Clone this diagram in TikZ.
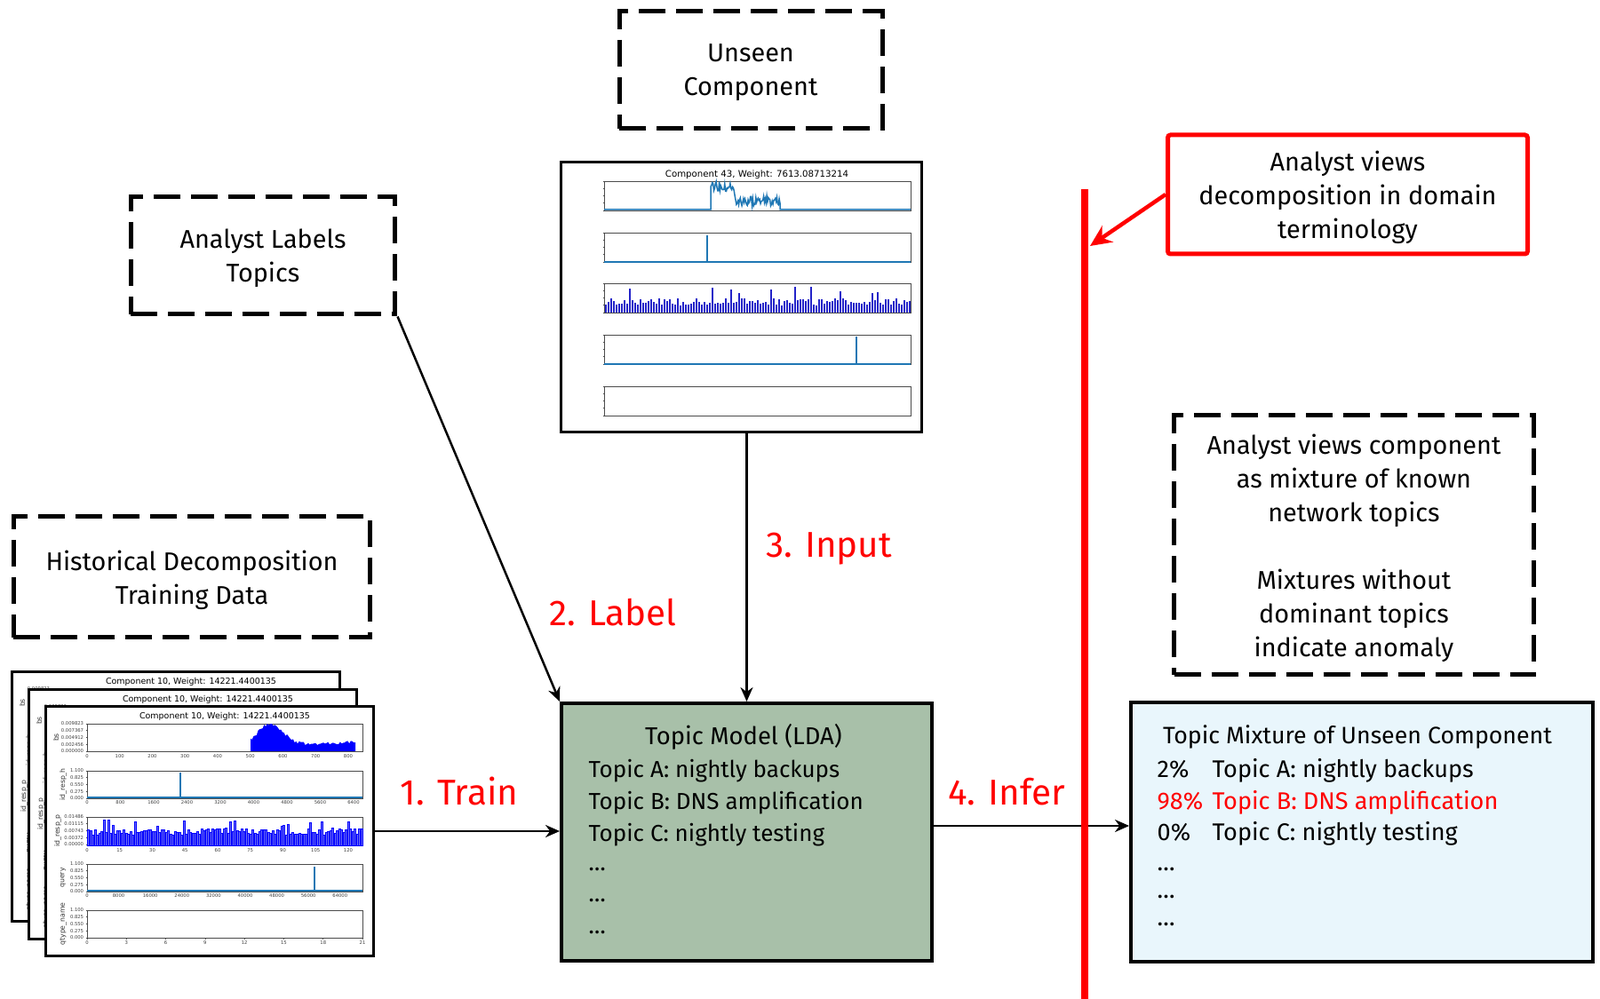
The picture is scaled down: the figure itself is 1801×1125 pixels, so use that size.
\documentclass[tikz,border=0pt]{standalone}
\usepackage{fontspec}
\setmainfont{Fira Sans}
\newfontfamily\plotfont{DejaVu Sans}
\usetikzlibrary{arrows.meta,positioning}
\definecolor{ldagreen}{RGB}{168,192,169}
\definecolor{mixblue}{RGB}{233,246,252}
\definecolor{mplblue}{RGB}{31,119,180}
\definecolor{barblue}{RGB}{110,110,245}
\definecolor{darkbar}{RGB}{35,35,200}

\tikzset{
  dashbox/.style={draw, line width=0.5mm, dash pattern=on 3mm off 1.2mm, align=center,
    font=\fontsize{8.2}{10.8}\selectfont, inner sep=0, text depth=0pt},
  boxtext/.style={font=\fontsize{8.2}{10.8}\selectfont, inner sep=0},
  stepname/.style={text=red, font=\fontsize{11.5}{13}\selectfont, inner sep=0},
  flow/.style={line width=0.25mm, -{Stealth[length=1.6mm,width=1.4mm]}},
  redflow/.style={draw=red, line width=0.45mm, -{Stealth[length=2.4mm,width=2.2mm]}},
  redbar/.style={draw=red, line width=0.75mm},
  plotframe/.style={draw, line width=0.3mm, fill=white, inner sep=0},
  plottitle/.style={font=\plotfont\fontsize{2.7}{3}\selectfont, inner sep=0},
  ticklab/.style={font=\plotfont\fontsize{1.5}{1.8}\selectfont, inner sep=0.2pt, text=black!75},
  ylab/.style={rotate=90, font=\plotfont\fontsize{2.2}{2.5}\selectfont, inner sep=0, text=black!80},
  axisline/.style={draw=black!70, line width=0.08mm},
  % one page of the training decomposition
  histchart/.pic={
    \node[plotframe, minimum width=37mm, minimum height=28.2mm] (frame) at (185,141) {};
    \node[plottitle] (title) at (202,12) {Component 10, Weight: 14221.4400135};
    \foreach \t/\lab/\lx in {20/bs/12,73/id\_resp\_h/20,125/id\_resp\_p/14,178/query/20,230/qtype\_name/20}{
      \draw[axisline] (47,\t) rectangle (357,\t+31);
      \node[ylab] (lab\t) at (\lx,\t+15.5) {\lab};
    }
    \foreach \t/\va/\vb/\vc/\vd/\ve in {20/0.000000/0.002456/0.004912/0.007367/0.009823,
        73/0.000/0.275/0.550/0.825/1.100,125/0.00000/0.00372/0.00743/0.01115/0.01486,
        178/0.000/0.275/0.550/0.825/1.100,230/0.000/0.275/0.550/0.825/1.100}
      \foreach \v [count=\k from 0] in {\va,\vb,\vc,\vd,\ve}{
        \draw[axisline] (47,\t+31-\k*7.75) -- ++(-1.5,0);
        \node[ticklab, anchor=east] (y\t\k) at (44.5,\t+31-\k*7.75) {\v};
      }
    \foreach \b/\dx/\vals in {51/36.75/{0,100,200,300,400,500,600,700,800},
        103/37.5/{0,800,1600,2400,3200,4000,4800,5600,6400},
        157/36.75/{0,15,30,45,60,75,90,105,120},
        208/35.6/{0,8000,16000,24000,32000,40000,48000,56000,64000},
        261/44.3/{0,3,6,9,12,15,18,21}}
      \foreach \v [count=\k from 0] in \vals{
        \draw[axisline] (47+\k*\dx,\b) -- ++(0,1.5);
        \node[ticklab, anchor=north] (x\b\k) at (47+\k*\dx,\b+2.5) {\v};
      }
    \fill[blue] (231,51) -- plot[domain=231:349,samples=70]
      (\x,{51-31*min(1,0.8*exp(-1*((\x-253)/20)^2)+0.12+0.15*(\x-231)/118+0.12*rnd)}) -- (349,51) -- cycle;
    \draw[mplblue, line width=0.15mm] (47,103) -- (357,103) (152,103) -- (152,75);
    \foreach \i in {0,...,123}{
      \pgfmathsetmacro\bh{31*(0.38+0.25*rnd+0.3*(rnd>0.9))}
      \filldraw[fill=barblue, draw=blue, line width=0.05mm] (47.5+\i*2.5,157) rectangle ++(1.9,-\bh);
    }
    \draw[mplblue, line width=0.15mm] (47,208) -- (357,208) (303,208) -- (303,181);
  },
  % the component that was not seen in training
  unseenchart/.pic={
    \node[plotframe, minimum width=40.6mm, minimum height=30.4mm] (frame) at (203,152) {};
    \node[plottitle, font=\plotfont\fontsize{2.9}{3.2}\selectfont] (title) at (221,14) {Component 43, Weight: 7613.08713214};
    \foreach \t in {21,79,136,194,252}{
      \draw[axisline] (49,\t) rectangle (394,\t+33);
      \foreach \k in {0,...,4}
        \draw[axisline] (49,\t+33-\k*8.25) -- ++(-1.5,0);
      \foreach \k in {0,...,10}
        \draw[axisline] (49+\k*34.5,\t+33) -- ++(0,1.5);
    }
    \draw[mplblue, line width=0.15mm] (49,53) -- (169,53) -- plot[domain=169:247,samples=90]
      (\x,{53-33*(0.12+0.5*(\x<196)+0.35*rnd)}) -- (247,53) -- (394,53);
    \draw[mplblue, line width=0.15mm] (49,112) -- (394,112) (165,112) -- (165,82);
    \foreach \i in {0,...,114}{
      \pgfmathsetmacro\bh{33*(0.25+0.25*rnd+0.4*(rnd>0.9))}
      \fill[darkbar] (50+\i*3,169) rectangle ++(2,-\bh);
    }
    \draw[mplblue, line width=0.15mm] (49,227) -- (394,227) (333,227) -- (333,196);
  }
}

\begin{document}
\begin{tikzpicture}[x=0.1mm,y=-0.1mm]
\useasboundingbox (0,0) rectangle (1801,1125);

% text boxes
\node[dashbox, minimum width=29.6mm, minimum height=13.2mm] (unseen) at (845,79) {Unseen\\Component};
\node[dashbox, minimum width=29.8mm, minimum height=13.2mm] (labels) at (296,288) {Analyst Labels\\Topics};
\node[dashbox, minimum width=40.2mm, minimum height=13.6mm] (hist) at (216,650) {Historical Decomposition\\Training Data};
\node[dashbox, minimum width=40.5mm, minimum height=29.2mm] (views) at (1524,614)
  {Analyst views component\\as mixture of known\\network topics\\[10.8pt]Mixtures without\\dominant topics\\indicate anomaly};
\node[draw=red, line width=0.5mm, rounded corners=0.3mm, minimum width=40.5mm, minimum height=13.4mm,
  align=center, boxtext, text depth=0pt] (domain) at (1517,219) {Analyst views\\decomposition in domain\\terminology};

% plots
\pic (back) at (13,756) {histchart};
\pic (middle) at (32,776) {histchart};
\pic (front) at (51,795) {histchart};
\pic (comp) at (631,183) {unseenchart};

% topic model
\node[draw, line width=0.4mm, fill=ldagreen, minimum width=41.7mm, minimum height=29mm] (lda) at (840.5,937) {};
\node[boxtext, font=\fontsize{7.8}{10}\selectfont] (ldatitle) at (837,830) {Topic Model (LDA)};
\node[boxtext, anchor=north west, align=left, font=\fontsize{7.4}{10.15}\selectfont] (ldalist) at (662,855)
  {Topic A: nightly backups\\Topic B: DNS amplification\\Topic C: nightly testing\\[-0.8pt]…\\…\\…};

% inferred mixture
\node[draw, line width=0.4mm, fill=mixblue, minimum width=52mm, minimum height=29.2mm] (mix) at (1533,937) {};
\node[boxtext, font=\fontsize{7.6}{10}\selectfont] (mixtitle) at (1528,830) {Topic Mixture of Unseen Component};
\node[boxtext, anchor=north west, align=left, font=\fontsize{7.7}{10.1}\selectfont] (mixlist) at (1302,854)
  {\makebox[6.2mm][l]{2\%}Topic A: nightly backups\\
   \textcolor{red}{\makebox[6.2mm][l]{98\%}Topic B: DNS amplification}\\
   \makebox[6.2mm][l]{0\%}Topic C: nightly testing\\[-0.6pt]…\\[-1.2pt]…\\[-1.2pt]…};

% flow
\draw[flow] (frontframe.east) -- (frontframe.east -| lda.west);
\draw[flow] (labels.south east) -- (lda.north west);
\draw[flow] (lda.north |- compframe.south) -- (lda.north);
\draw[flow] ([yshift=0.7mm]lda.east) -- ([yshift=0.7mm]lda.east -| mix.west);

\node[stepname] (train) at (517,891) {1. Train};
\node[stepname] (label) at (690,690) {2. Label};
\node[stepname] (input) at (933,618) {3. Input};
\node[stepname] (infer) at (1133,892) {4. Infer};

% analyst side
\coordinate (redtop) at (1221,213);
\coordinate (redbot) at (1221,1125);
\coordinate (redhit) at (1227,277);
\draw[redbar] (redtop) -- (redbot);
\draw[redflow] (domain.west) -- (redhit);
\end{tikzpicture}
\end{document}
